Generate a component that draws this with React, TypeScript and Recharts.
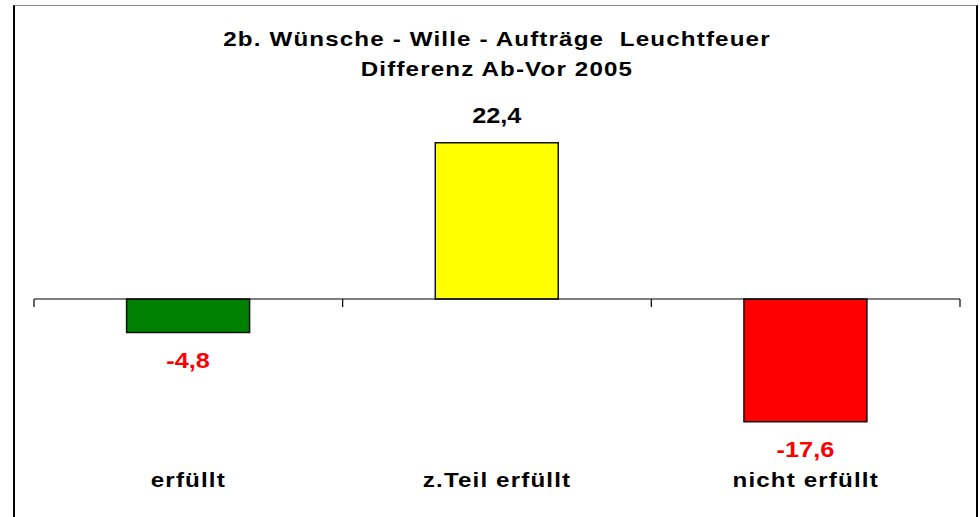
import React from 'react';
import { ComposedChart, Bar, Cell, XAxis, YAxis, ReferenceLine, LabelList } from 'recharts';

const categories = ['erfüllt', 'z.Teil erfüllt', 'nicht erfüllt'];
const differenz = [-4.8, 22.4, -17.6];
const barColors = ['#008000', '#FFFF00', '#FF0000'];
const categoryBounds = [0, 1, 2, 3];
const yDomain = [-25, 25];

const data = categories.map((name, i) => ({ name, value: differenz[i] }));

const FONT = 'Arial, "Liberation Sans", Helvetica, sans-serif';
const STRETCH = 1.15; // the original text is rendered a bit wide
const TICK_DEPTH = 1.15; // tick marks below the zero line, in value units

function CategoryTick(props: any) {
    const { x, y, payload } = props;
    return (
        <g transform={`translate(${x},${y + 13.5}) scale(${STRETCH},1)`}>
            <text x={0} y={0} textAnchor="middle"
                style={{ fontFamily: FONT, fontSize: 21, fontWeight: 'bold', letterSpacing: 1, fill: '#000' }}>
                {payload.value}
            </text>
        </g>
    );
}

function ValueLabel(props: any) {
    const { x, y, width, height, value } = props;
    const top = Math.min(y, y + height);
    const bottom = Math.max(y, y + height);
    const neg = value < 0;
    const ty = neg ? bottom + 35.5 : top - 20;
    return (
        <g transform={`translate(${x + width / 2},${ty}) scale(${STRETCH},1)`}>
            <text x={0} y={0} textAnchor="middle"
                style={{ fontFamily: FONT, fontSize: 22, fontWeight: 'bold', fill: neg ? '#FF0000' : '#000' }}>
                {String(value).replace('.', ',')}
            </text>
        </g>
    );
}

export default function App() {
    const titleStyle: React.CSSProperties = {
        position: 'absolute', left: 0, width: 994, textAlign: 'center',
        fontFamily: FONT, fontSize: 21, fontWeight: 'bold', letterSpacing: 1, color: '#000',
        lineHeight: '24px', whiteSpace: 'pre', transform: `scaleX(${STRETCH})`, transformOrigin: '497px 0',
    };
    return (
        <div>
            <div style={{
                position: 'absolute', left: 13, top: 5, width: 961, height: 530,
                borderTop: '1px solid #888', borderLeft: '2px solid #000', borderRight: '2px solid #000',
                background: '#fff',
            }} />
            <div style={{ ...titleStyle, top: 27 }}>2b. Wünsche - Wille - Aufträge  Leuchtfeuer</div>
            <div style={{ ...titleStyle, top: 57 }}>Differenz Ab-Vor 2005</div>
            <div style={{ position: 'absolute', left: 0, top: 0 }}>
                <ComposedChart width={980} height={517} data={data}
                    margin={{ top: 124.5, right: 20, bottom: 13.5, left: 34 }}
                    barCategoryGap="30%">
                    <XAxis dataKey="name" axisLine={false} tickLine={false} tickSize={0} tickMargin={0}
                        height={30} tick={<CategoryTick />} interval={0} />
                    <XAxis xAxisId="n" type="number" dataKey="none" domain={[0, 3]} allowDataOverflow hide />
                    <YAxis type="number" domain={yDomain} hide allowDataOverflow />
                    <ReferenceLine y={0} stroke="#000" strokeWidth={1.2} />
                    {categoryBounds.map(b => (
                        <ReferenceLine key={b} xAxisId="n" ifOverflow="visible"
                            segment={[{ x: b, y: 0 }, { x: b, y: -TICK_DEPTH }]}
                            stroke="#000" strokeWidth={1.2} />
                    ))}
                    <Bar dataKey="value" stroke="#111" strokeWidth={1.5} isAnimationActive={false}>
                        {data.map((d, i) => (
                            <Cell key={d.name} fill={barColors[i]} />
                        ))}
                        <LabelList dataKey="value" content={<ValueLabel />} />
                    </Bar>
                </ComposedChart>
            </div>
        </div>
    );
}
